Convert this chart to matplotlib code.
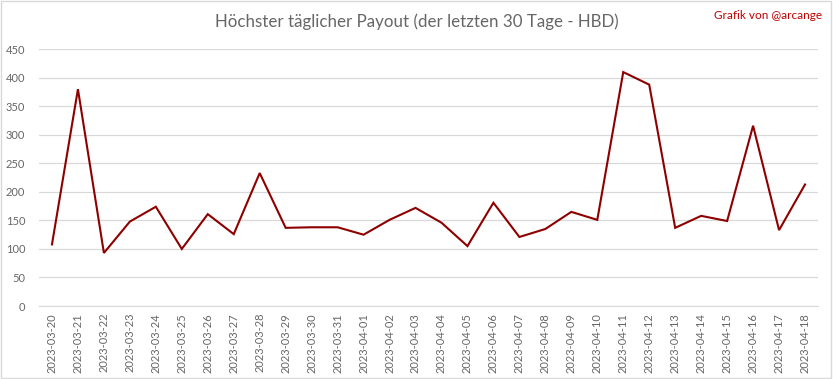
import matplotlib
matplotlib.use("Agg")
import matplotlib.pyplot as plt
from matplotlib.patches import Rectangle

dates = ["2023-03-20", "2023-03-21", "2023-03-22", "2023-03-23", "2023-03-24",
         "2023-03-25", "2023-03-26", "2023-03-27", "2023-03-28", "2023-03-29",
         "2023-03-30", "2023-03-31", "2023-04-01", "2023-04-02", "2023-04-03",
         "2023-04-04", "2023-04-05", "2023-04-06", "2023-04-07", "2023-04-08",
         "2023-04-09", "2023-04-10", "2023-04-11", "2023-04-12", "2023-04-13",
         "2023-04-14", "2023-04-15", "2023-04-16", "2023-04-17", "2023-04-18"]
payout = [108, 380, 93, 148, 174, 100, 161, 126, 233, 137,
          138, 138, 125, 151, 172, 146, 105, 181, 121, 135,
          165, 151, 410, 388, 137, 158, 149, 316, 133, 213]
yticks = [0, 50, 100, 150, 200, 250, 300, 350, 400, 450]

plt.rcParams['font.family'] = ['Lato', 'DejaVu Sans']

fig = plt.figure(figsize=(8.33, 3.79), dpi=100)
ax = fig.add_axes([0.0468, 0.1926, 0.982 - 0.0468, 0.870 - 0.1926])

x = list(range(len(dates)))
ax.plot(x, payout, color='#8E0000', lw=1.5, solid_joinstyle='miter')

ax.set_xlim(-0.5, len(dates) - 0.5)
ax.set_ylim(0, 450)
ax.set_yticks(yticks)
ax.set_yticklabels([str(v) for v in yticks])
ax.set_xticks(x)
ax.set_xticklabels(dates, rotation=90)
ax.grid(axis='y', color='#D9D9D9', lw=0.9)
ax.set_axisbelow(True)
for s in ['top', 'right', 'left']:
    ax.spines[s].set_visible(False)
ax.spines['bottom'].set_color('#D9D9D9')
ax.tick_params(axis='both', length=0, colors='#666666', labelsize=8)
ax.tick_params(axis='y', pad=10)
ax.tick_params(axis='x', pad=5)

fig.text(0.5, 0.942, "Höchster täglicher Payout (der letzten 30 Tage - HBD)",
         ha='center', va='center', fontsize=12.2, color='#666666')
fig.text(0.987, 0.958, "Grafik von @arcange", ha='right', va='center',
         fontsize=8.5, color='#C00000')

fig.patches.append(Rectangle((0.001, 0.002), 0.997, 0.995, transform=fig.transFigure,
                             fill=False, edgecolor='#D9D9D9', lw=1))

fig.savefig("out.png", dpi=100)
